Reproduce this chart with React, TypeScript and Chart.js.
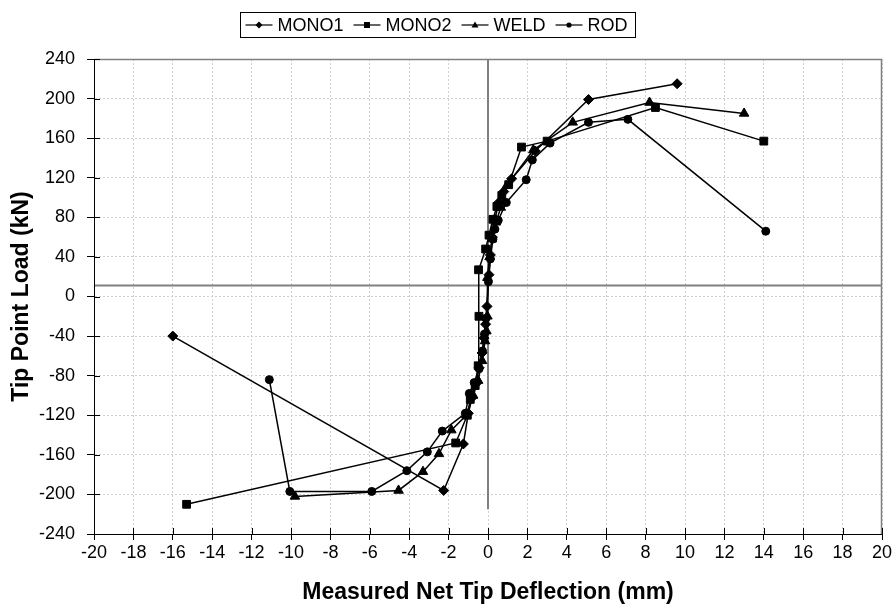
import { useEffect, useRef } from 'react';
import { Chart, registerables } from 'chart.js';
Chart.register(...registerables);

const xTickValues = [-20, -18, -16, -14, -12, -10, -8, -6, -4, -2, 0, 2, 4, 6, 8, 10, 12, 14, 16, 18, 20];
const yTickValues = [-240, -200, -160, -120, -80, -40, 0, 40, 80, 120, 160, 200, 240];

const seriesNames = ['MONO1', 'MONO2', 'WELD', 'ROD'];

const mono1X = [-16.0, -2.25, -1.25, -1.0, -0.8, -0.6, -0.45, -0.3, -0.2, -0.12, -0.05, 0.05, 0.12, 0.22, 0.35, 0.55, 0.8, 1.2, 2.4, 5.1, 9.6];
const mono1Y = [-40, -196, -149, -118, -102, -88, -72, -57, -42, -28, -10, 22, 42, 60, 78, 95, 106, 119, 147, 199, 215];

const mono2X = [-15.3, -1.64, -1.05, -0.9, -0.65, -0.5, -0.46, -0.48, -0.12, 0.05, 0.25, 0.45, 0.7, 1.05, 1.7, 3.0, 8.5, 14.0];
const mono2Y = [-210, -148, -120, -104, -90, -70, -20, 27, 48, 62, 78, 91, 102, 113, 151, 157, 191, 157];

const weldX = [-9.8, -4.54, -3.3, -2.49, -1.86, -1.1, -0.75, -0.5, -0.3, -0.15, -0.08, -0.03, -0.03, 0.08, 0.2, 0.4, 0.65, 0.95, 2.3, 4.3, 8.2, 13.0];
const weldY = [-202, -196, -177, -159, -135, -120, -100, -85, -65, -45, -35, -20, 19, 40, 58, 75, 90, 112, 148, 176, 196, 185];

const rodX = [-11.1, -10.06, -5.9, -4.12, -3.08, -2.32, -1.15, -0.95, -0.7, -0.45, -0.28, -0.18, -0.1, 0.02, 0.12, 0.25, 0.35, 0.52, 0.93, 1.94, 2.25, 3.15, 5.1, 7.1, 14.1];
const rodY = [-84, -197, -197, -176, -157, -136, -118, -98, -87, -73, -55, -38, -22, 15, 38, 58, 68, 77, 95, 118, 138, 155, 176, 179, 66];

// reference crossing lines
const hLineX = [-20, 20];
const hLineY = [11, 11];
const vLineX = [0, 0];
const vLineY = [240, -215];

const zip = (xs: number[], ys: number[]) => xs.map((x, i) => ({ x, y: ys[i] }));

const FONT = "'Liberation Sans', Arial, sans-serif";
const markerStyles: any[] = ['rectRot', 'rect', 'triangle', 'circle'];
const markerRadius = [5, 5.5, 5.5, 4];
const legendMarkerSize = [3.5, 3, 3.5, 2.6];

function drawMarker(ctx: CanvasRenderingContext2D, style: string, x: number, y: number, r: number) {
  ctx.beginPath();
  if (style === 'rectRot') {
    ctx.moveTo(x, y - r);
    ctx.lineTo(x + r, y);
    ctx.lineTo(x, y + r);
    ctx.lineTo(x - r, y);
    ctx.closePath();
  } else if (style === 'rect') {
    ctx.rect(x - r, y - r, r * 2, r * 2);
  } else if (style === 'triangle') {
    ctx.moveTo(x, y - r);
    ctx.lineTo(x + r, y + r * 0.7);
    ctx.lineTo(x - r, y + r * 0.7);
    ctx.closePath();
  } else {
    ctx.arc(x, y, r, 0, Math.PI * 2);
  }
  ctx.fill();
}

const framePlugin = {
  id: 'frameLegend',
  afterDraw(chart: any) {
    const ctx = chart.ctx;
    const { left, right, top, bottom } = chart.chartArea;
    const xs = chart.scales.x;
    const ys = chart.scales.y;
    ctx.save();
    ctx.setLineDash([]);
    // gray top/right frame
    ctx.strokeStyle = '#808080';
    ctx.lineWidth = 1.5;
    ctx.beginPath();
    ctx.moveTo(left, top + 0.5);
    ctx.lineTo(right - 0.5, top + 0.5);
    ctx.lineTo(right - 0.5, bottom);
    ctx.stroke();
    // solid black axes
    ctx.strokeStyle = '#000';
    ctx.lineWidth = 1;
    ctx.beginPath();
    ctx.moveTo(Math.round(left) + 0.5, top);
    ctx.lineTo(Math.round(left) + 0.5, bottom);
    ctx.moveTo(left, Math.round(bottom) + 0.5);
    ctx.lineTo(right, Math.round(bottom) + 0.5);
    ctx.stroke();
    // inner tick marks
    ctx.beginPath();
    yTickValues.forEach((v) => {
      const py = Math.round(ys.getPixelForValue(v)) + 0.5;
      ctx.moveTo(left, py);
      ctx.lineTo(left + 6, py);
    });
    xTickValues.forEach((v) => {
      const px = Math.round(xs.getPixelForValue(v)) + 0.5;
      ctx.moveTo(px, bottom);
      ctx.lineTo(px, bottom - 6);
    });
    ctx.stroke();

    // legend
    ctx.font = `18px ${FONT}`;
    ctx.textBaseline = 'middle';
    const symW = 27;
    const padL = 5;
    const symGap = 5;
    const entryGap = 10;
    const padR = 8;
    const widths = seriesNames.map((n) => ctx.measureText(n).width);
    let total = padL + padR;
    widths.forEach((w, i) => {
      total += symW + symGap + w + (i < widths.length - 1 ? entryGap : 0);
    });
    const bx = 240.5;
    const by = 12.5;
    const bh = 25;
    ctx.strokeStyle = '#000';
    ctx.lineWidth = 1;
    ctx.strokeRect(bx, by, Math.round(total), bh);
    let cx = bx + padL;
    const cy = by + bh / 2;
    seriesNames.forEach((n, i) => {
      ctx.strokeStyle = '#000';
      ctx.lineWidth = 1.2;
      ctx.beginPath();
      ctx.moveTo(cx, cy);
      ctx.lineTo(cx + symW, cy);
      ctx.stroke();
      ctx.fillStyle = '#000';
      drawMarker(ctx, markerStyles[i], cx + symW / 2, cy, legendMarkerSize[i]);
      ctx.fillStyle = '#000';
      ctx.textAlign = 'left';
      ctx.fillText(n, cx + symW + symGap, cy + 1);
      cx += symW + symGap + widths[i] + entryGap;
    });
    ctx.restore();
  },
};

export default function App() {
  const ref = useRef<HTMLCanvasElement | null>(null);
  useEffect(() => {
    if (!ref.current) return;
    const seriesData = [zip(mono1X, mono1Y), zip(mono2X, mono2Y), zip(weldX, weldY), zip(rodX, rodY)];
    const datasets: any[] = seriesData.map((d, i) => ({
      label: seriesNames[i],
      data: d,
      showLine: true,
      borderColor: '#000',
      backgroundColor: '#000',
      borderWidth: 1.5,
      pointStyle: markerStyles[i],
      pointRadius: markerRadius[i],
      pointBackgroundColor: '#000',
      pointBorderColor: '#000',
      pointBorderWidth: 1,
      order: 1,
    }));
    datasets.push({
      label: 'hline',
      data: zip(hLineX, hLineY),
      showLine: true,
      borderColor: '#808080',
      borderWidth: 2,
      pointRadius: 0,
      order: 10,
    });
    datasets.push({
      label: 'vline',
      data: zip(vLineX, vLineY),
      showLine: true,
      borderColor: '#808080',
      borderWidth: 2,
      pointRadius: 0,
      order: 10,
    });
    const chart = new Chart(ref.current, {
      type: 'scatter',
      data: { datasets },
      options: {
        animation: false,
        responsive: false,
        layout: { padding: { top: 59, right: 13, left: 0, bottom: 0 } },
        plugins: { legend: { display: false }, tooltip: { enabled: false } },
        scales: {
          x: {
            type: 'linear',
            min: -20,
            max: 20,
            afterBuildTicks: (s: any) => { s.ticks = xTickValues.map((v) => ({ value: v })); },
            afterFit: (s: any) => { s.height = 82; },
            ticks: { color: '#000', font: { family: FONT, size: 18 }, padding: 2, maxRotation: 0, autoSkip: false },
            grid: { color: '#cfcfcf', tickColor: '#000', tickLength: 6, lineWidth: 1, tickBorderDash: [] },
            border: { color: '#000', width: 1, dash: [2, 2] },
            title: { display: true, text: 'Measured Net Tip Deflection (mm)', color: '#000', font: { family: FONT, size: 23, weight: 'bold' }, padding: { top: 0, bottom: 10 } },
          },
          y: {
            type: 'linear',
            min: -240,
            max: 240,
            afterBuildTicks: (s: any) => { s.ticks = yTickValues.map((v) => ({ value: v })); },
            afterFit: (s: any) => { s.width = 94; },
            ticks: { color: '#000', font: { family: FONT, size: 18 }, padding: 12, autoSkip: false },
            grid: { color: '#cfcfcf', tickColor: '#000', tickLength: 7, lineWidth: 1, tickBorderDash: [] },
            border: { color: '#000', width: 1, dash: [2, 2] },
            title: { display: true, text: 'Tip Point Load (kN)', color: '#000', font: { family: FONT, size: 23, weight: 'bold' }, padding: { top: 8, bottom: 0 } },
          },
        },
      },
      plugins: [framePlugin],
    } as any);
    return () => chart.destroy();
  }, []);
  return (
    <div style={{ position: 'absolute', left: 0, top: 0, width: 895, height: 616, background: '#fff' }}>
      <canvas ref={ref} width={895} height={616} />
    </div>
  );
}
